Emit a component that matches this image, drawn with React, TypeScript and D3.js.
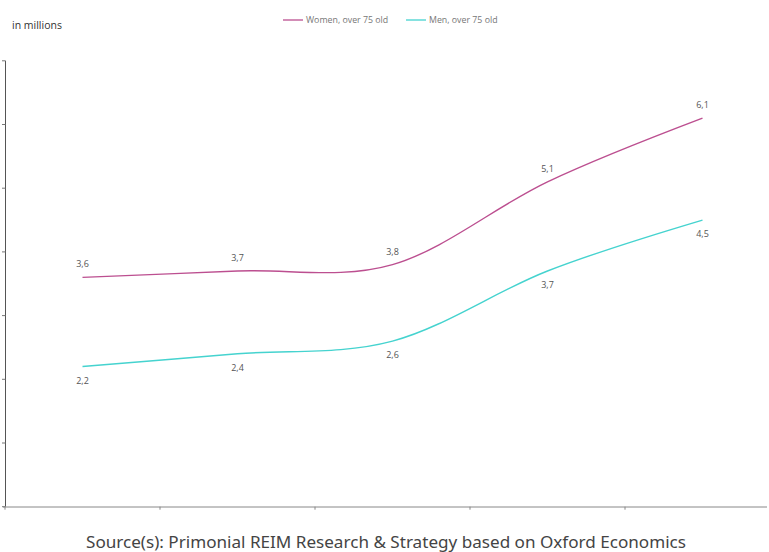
import React from "react";
import * as d3 from "d3";

// Population over 75, in millions, by period
const periods = ["P1", "P2", "P3", "P4", "P5"];
const women = [3.6, 3.7, 3.8, 5.1, 6.1];
const men = [2.2, 2.4, 2.6, 3.7, 4.5];
const yTicks = [0, 1, 2, 3, 4, 5, 6, 7];

const seriesNames = ["Women, over 75 old", "Men, over 75 old"];
const seriesColors = ["#bc4f90", "#45d3cf"];

const W = 769;
const H = 552;

export default function App() {
  const x = d3.scaleBand<string>().domain(periods).range([5, 780]);
  const y = d3.scaleLinear().domain([0, 7]).range([506.7, 60.8]);
  const cx = (p: string) => (x(p) as number) + x.bandwidth() / 2;

  const line = d3
    .line<number>()
    .x((_, i) => cx(periods[i]))
    .y((v) => y(v))
    .curve(d3.curveCatmullRom.alpha(0));

  const bandEdges = periods.map((p) => x(p) as number).concat([780]);

  const fmt = (v: number) => v.toFixed(1).replace(".", ",");
  const font = "'Open Sans', 'Noto Sans', sans-serif";

  return (
    <svg
      width={W}
      height={H}
      style={{ position: "fixed", left: 0, top: 0, background: "#fff" }}
      fontFamily={font}
    >
      <text x={12} y={29} fontSize={10.5} fill="#333">
        in millions
      </text>

      {/* legend */}
      {seriesNames.map((name, i) => {
        const lx = i === 0 ? 283 : 406;
        return (
          <g key={name}>
            <line x1={lx} x2={lx + 20} y1={20} y2={20} stroke={seriesColors[i]} strokeWidth={1.3} />
            <text x={lx + 23} y={23} fontSize={8.8} fill="#777">
              {name}
            </text>
          </g>
        );
      })}

      {/* y axis */}
      <line x1={5.5} x2={5.5} y1={y(7)} y2={y(0)} stroke="#555" strokeWidth={1} />
      {yTicks.map((t) => (
        <line key={t} x1={2} x2={5.5} y1={y(t)} y2={y(t)} stroke="#777" strokeWidth={1} />
      ))}

      {/* x axis */}
      <line x1={3} x2={767} y1={y(0) + 0.3} y2={y(0) + 0.3} stroke="#888" strokeWidth={1} />
      {bandEdges.map((e, i) => (
        <line key={i} x1={e} x2={e} y1={y(0)} y2={y(0) + 3} stroke="#888" strokeWidth={1} />
      ))}

      {/* series lines */}
      <path d={line(women) || ""} fill="none" stroke={seriesColors[0]} strokeWidth={1.4} />
      <path d={line(men) || ""} fill="none" stroke={seriesColors[1]} strokeWidth={1.4} />

      {/* value labels */}
      {women.map((v, i) => (
        <text key={"w" + i} x={cx(periods[i])} y={y(v) - 10} textAnchor="middle" fontSize={9} fill="#555">
          {fmt(v)}
        </text>
      ))}
      {men.map((v, i) => (
        <text key={"m" + i} x={cx(periods[i])} y={y(v) + 17} textAnchor="middle" fontSize={9} fill="#555">
          {fmt(v)}
        </text>
      ))}

      <text x={386} y={548} textAnchor="middle" fontSize={17.1} fill="#444" fontFamily="'Noto Sans', sans-serif">
        Source(s): Primonial REIM Research &amp; Strategy based on Oxford Economics
      </text>
    </svg>
  );
}
